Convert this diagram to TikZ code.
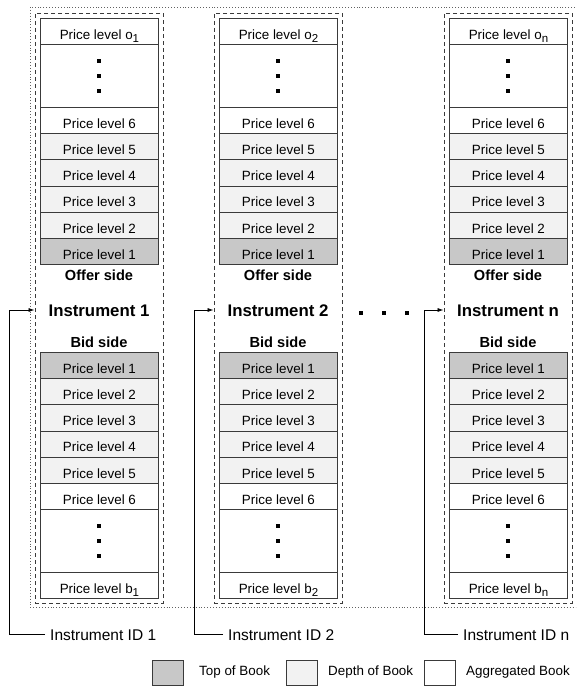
\documentclass[tikz,border=0pt]{standalone}
\usepackage{fontspec}
\setmainfont{Liberation Sans}
\usetikzlibrary{arrows.meta,calc}

\definecolor{edge}{HTML}{3A3A3A}
\definecolor{topbook}{HTML}{C8C8C8}
\definecolor{depthbook}{HTML}{F2F2F2}

\tikzset{
  lvl/.style={draw=edge, line width=0.9pt, minimum width=118pt, minimum height=26.2pt,
    inner sep=0pt, text height=15.6pt, text depth=0pt, anchor=north west,
    font=\fontsize{13.4}{14}\selectfont},
  toplvl/.style={lvl, fill=topbook},
  deplvl/.style={lvl, fill=depthbook},
  agglvl/.style={lvl, fill=white},
  gapbox/.style={lvl, fill=white, minimum height=62.8pt},
  sidelabel/.style={anchor=base, inner sep=0pt, font=\bfseries\fontsize{14.6}{16}\selectfont},
  instlabel/.style={anchor=base, inner sep=0pt, font=\bfseries\fontsize{16.8}{18}\selectfont},
  idlabel/.style={anchor=base west, inner xsep=5pt, inner ysep=0pt, font=\fontsize{15.5}{17}\selectfont},
  bookframe/.style={draw=edge, line width=0.9pt, dash pattern=on 4pt off 3pt,
    minimum width=128pt, minimum height=590pt, inner sep=0pt},
  outerframe/.style={draw=edge!80, line width=0.8pt, dash pattern=on 0.9pt off 2pt},
  conn/.style={draw=black, line width=0.8pt},
  legbox/.style={draw=edge, line width=0.9pt, minimum width=31pt, minimum height=25pt, inner sep=0pt},
  legtext/.style={inner sep=0pt, font=\fontsize{13.4}{14}\selectfont},
}

% lowered index after "Price level o" / "Price level b"
\newcommand{\lvlsub}[1]{\raisebox{-3.5pt}{\fontsize{11.5}{12}\selectfont #1}}

\newcommand{\vdotsbox}[1]{%
  \fill ($(#1.center)+(-2,-17)$) rectangle ++(4,4);
  \fill ($(#1.center)+(-2,-2)$) rectangle ++(4,4);
  \fill ($(#1.center)+(-2,13)$) rectangle ++(4,4);
}

\begin{document}
\begin{tikzpicture}[x=1pt,y=-1pt]
\useasboundingbox (0,0) rectangle (576,687);
\begin{scope}
\clip (0,0) rectangle (576,687);

% frame round all instruments
\draw[outerframe] (30,7) rectangle (600,607);

% one order book per instrument: box left edge / subscript / feed line x / label line end
\foreach \c/\L/\s/\ax/\ex in {1/40/1/9/45, 2/219/2/194/223, 3/449/n/424/458}{
  \node[bookframe] (f\c) at (\L+59,308) {};

  % offer side
  \node[agglvl] (o\c) at (\L,18) {Price level o\lvlsub{\s}};
  \node[gapbox] (og\c) at (\L,44) {};
  \node[agglvl] (a6\c) at (\L,107) {Price level 6};
  \node[deplvl] (a5\c) at (\L,133.2) {Price level 5};
  \node[deplvl] (a4\c) at (\L,159.4) {Price level 4};
  \node[deplvl] (a3\c) at (\L,185.6) {Price level 3};
  \node[deplvl] (a2\c) at (\L,211.8) {Price level 2};
  \node[toplvl] (a1\c) at (\L,238) {Price level 1};
  \vdotsbox{og\c}

  \node[sidelabel] (os\c) at (\L+59,280) {Offer side};
  \node[instlabel] (i\c) at (\L+59,316) {Instrument \s};
  \node[sidelabel] (bs\c) at (\L+59,347) {Bid side};

  % bid side
  \node[toplvl] (b1\c) at (\L,352) {Price level 1};
  \node[deplvl] (b2\c) at (\L,378.2) {Price level 2};
  \node[deplvl] (b3\c) at (\L,404.4) {Price level 3};
  \node[deplvl] (b4\c) at (\L,430.6) {Price level 4};
  \node[deplvl] (b5\c) at (\L,456.8) {Price level 5};
  \node[agglvl] (b6\c) at (\L,483) {Price level 6};
  \node[gapbox] (bg\c) at (\L,509.2) {};
  \node[agglvl] (bb\c) at (\L,572) {Price level b\lvlsub{\s}};
  \vdotsbox{bg\c}

  % instrument id feeding the book
  \node[idlabel] (id\c) at (\ex,640) {Instrument ID \s};
  \coordinate (k\c) at (\ax,310);
  \draw[conn, -{Latex[length=6pt,width=4pt]}] (id\c.west) -| (k\c) -- (f\c.west |- k\c);
}

% ellipsis between the books
\fill (359,311) rectangle ++(4,4);
\fill (382,311) rectangle ++(4,4);
\fill (405,311) rectangle ++(4,4);
\end{scope}

% legend
\node[legbox, fill=topbook] (lg1) at (167.5,672.5) {};
\node[legtext, anchor=west] (lt1) at (199,672.5) {Top of Book};
\node[legbox, fill=depthbook] (lg2) at (301.5,672.5) {};
\node[legtext, anchor=west] (lt2) at (328,672.5) {Depth of Book};
\node[legbox, fill=white] (lg3) at (440,672.5) {};
\node[legtext, anchor=west] (lt3) at (466,672.5) {Aggregated Book};
\end{tikzpicture}
\end{document}
